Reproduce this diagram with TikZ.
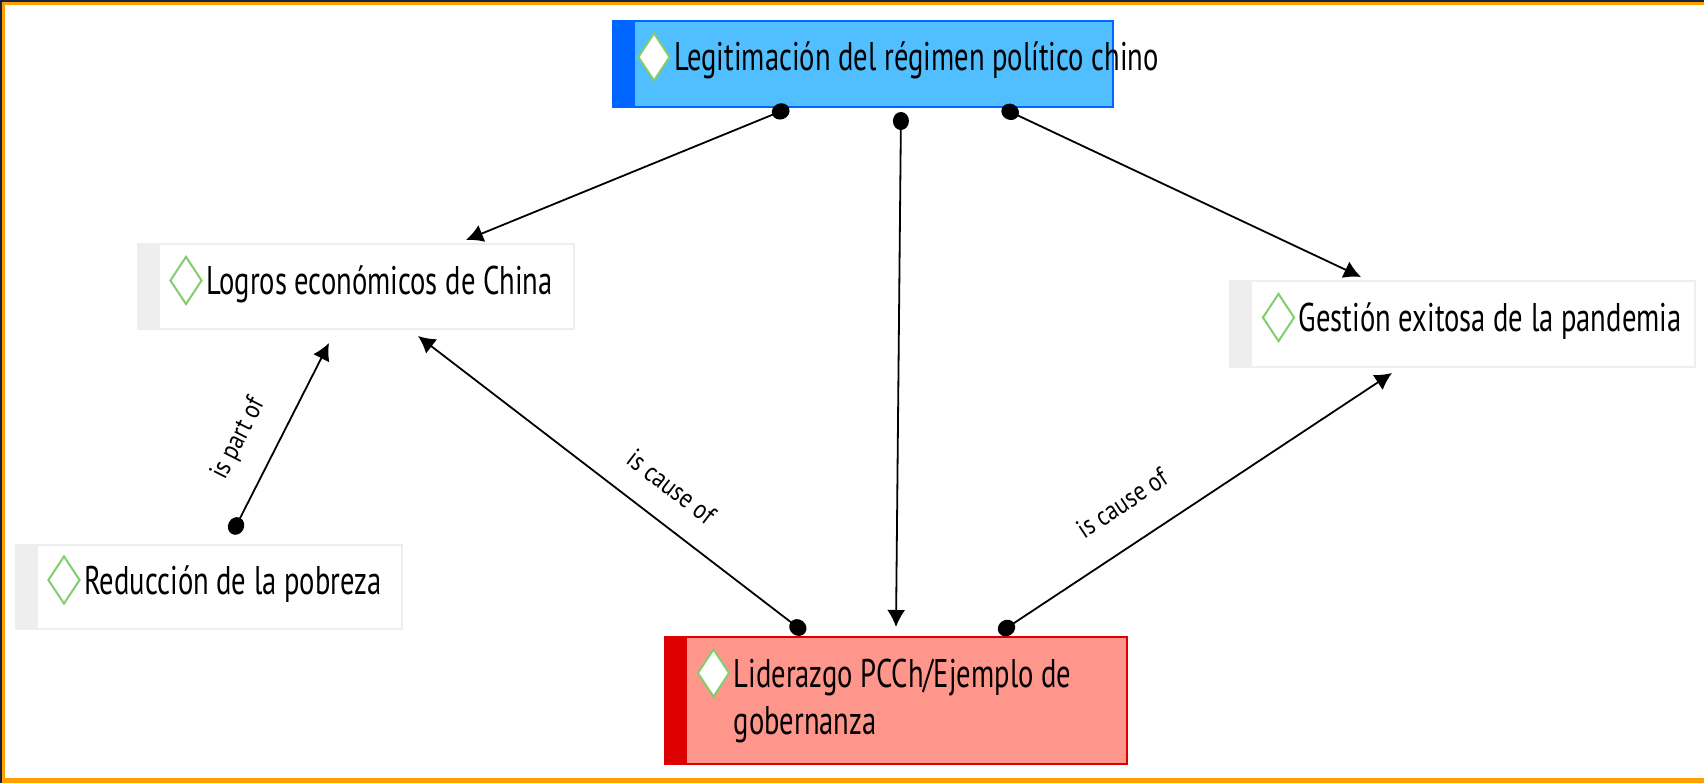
\documentclass[tikz,border=0pt]{standalone}
\usepackage{fontspec}
\setmainfont[FakeStretch=0.715]{PT Sans}
\newfontfamily\lblfont[FakeStretch=0.85]{PT Sans}
\usetikzlibrary{shapes.geometric,arrows.meta,positioning,calc}
\definecolor{legitfill}{RGB}{80,190,255}
\definecolor{legitedge}{RGB}{0,102,255}
\definecolor{liderfill}{RGB}{255,150,140}
\definecolor{lideredge}{RGB}{221,0,0}
\definecolor{plainedge}{RGB}{238,238,238}
\definecolor{gemgreen}{RGB}{130,205,110}
\definecolor{frameorange}{RGB}{255,160,0}
\definecolor{framenavy}{RGB}{25,35,70}

\begin{document}
\begin{tikzpicture}[x=1pt,y=-1pt,
  concept/.style 2 args={rectangle,fill=#1,draw=#2,line width=2pt,inner sep=0pt,
    path picture={\fill[#2] (path picture bounding box.south west) rectangle ([xshift=22pt]path picture bounding box.north west);}},
  gem/.style={diamond,draw=gemgreen,fill=white,line width=2pt,inner sep=0pt,minimum width=32pt,minimum height=48pt},
  ctext/.style={anchor=base west,inner sep=0pt,font=\fontsize{40}{47}\selectfont,align=left},
  link/.style={line width=1.8pt,{Circle[length=18pt,width=16pt]}-{Latex[length=17pt,width=18pt]}},
  lbl/.style={font=\lblfont\fontsize{27}{30}\selectfont,inner sep=2pt,sloped,above=22pt}]
\useasboundingbox (0,0) rectangle (1704,783);
% frame
\fill[frameorange] (0,0) rectangle (1704,5);
\fill[frameorange] (0,0) rectangle (5,783);
\fill[frameorange] (0,778) rectangle (1704,783);
\fill[framenavy] (0,0) rectangle (1704,2);
\fill[framenavy] (0,0) rectangle (2,783);
% concepts
\node[concept={legitfill}{legitedge},minimum width=500pt,minimum height=86pt] (legit) at (863,64) {};
\node[concept={white}{plainedge},minimum width=436pt,minimum height=85pt] (logros) at (356,286.5) {};
\node[concept={white}{plainedge},minimum width=465pt,minimum height=86pt] (gestion) at (1462.5,324) {};
\node[concept={white}{plainedge},minimum width=386pt,minimum height=84pt] (reduc) at (209,587) {};
\node[concept={liderfill}{lideredge},minimum width=462pt,minimum height=127pt] (lider) at (896,700.5) {};
% icons
\node[gem] (legit-g) at ($(legit.west)+(42,-7)$) {};
\node[gem] (logros-g) at ($(logros.west)+(49,-6)$) {};
\node[gem] (gestion-g) at ($(gestion.west)+(49.5,-6.5)$) {};
\node[gem] (reduc-g) at ($(reduc.west)+(49,-7)$) {};
\node[gem] (lider-g) at ($(lider.west)+(49.5,-27.5)$) {};
% texts
\node[ctext] (legit-t) at ($(legit-g.east)+(3,14)$) {Legitimación del régimen político chino};
\node[ctext] (logros-t) at ($(logros-g.east)+(3,14)$) {Logros económicos de China};
\node[ctext] (gestion-t) at ($(gestion-g.east)+(3,14)$) {Gestión exitosa de la pandemia};
\node[ctext] (reduc-t) at ($(reduc-g.east)+(3,14)$) {Reducción de la pobreza};
\node[ctext] (lider-t) at ($(lider-g.east)+(3,61)$) {Liderazgo PCCh/Ejemplo de\\gobernanza};
% links
\draw[link] ($(legit.south west)+(177,0)$) -- ($(logros.north west)+(329,-3)$);
\draw[link] ($(legit.south west)+(289,4)$) -- ($(lider.north west)+(232,-9)$);
\draw[link] ($(legit.south west)+(390,0)$) -- ($(gestion.north west)+(132,-3)$);
\draw[link] ($(reduc.north west)+(217,-10)$) -- node[lbl,pos=0.41] {is part of} ($(logros.south west)+(192,13)$);
\draw[link] ($(lider.north west)+(141,-3)$) -- node[lbl,pos=0.4] {is cause of} ($(logros.south west)+(281,6)$);
\draw[link] ($(lider.north west)+(335,-3)$) -- node[lbl,pos=0.37,above=28pt] {is cause of} ($(gestion.south west)+(163,5)$);
\end{tikzpicture}
\end{document}
